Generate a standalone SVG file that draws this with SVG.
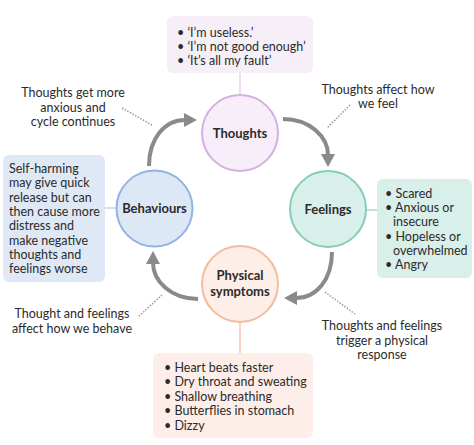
<svg xmlns="http://www.w3.org/2000/svg" width="474" height="445" viewBox="0 0 474 445">
<style>
text{font-family:Lato,"Open Sans","DejaVu Sans",sans-serif;fill:#2b2b2b;font-size:12.5px}
.lbl{font-weight:bold;font-size:13px;text-anchor:middle}
.mid{text-anchor:middle}
.arrow{fill:none;stroke:#8a8a8a;stroke-width:4}
.dot{fill:none;stroke:#9a9a9a;stroke-width:1.5;stroke-dasharray:1.5 1.5}
</style>
<defs>
<marker id="ah" markerUnits="userSpaceOnUse" markerWidth="13" markerHeight="14" refX="1" refY="7" orient="auto">
<path d="M0,0 L13,7 L0,14 z" fill="#8a8a8a"/>
</marker>
</defs>
<rect width="474" height="445" fill="#ffffff"/>
<g id="links">
<line x1="240" y1="73" x2="240" y2="96" stroke="#ecdff1" stroke-width="2"/>
<line x1="105" y1="208" x2="117" y2="208" stroke="#d5e1f3" stroke-width="2"/>
<line x1="365" y1="210" x2="378" y2="210" stroke="#bfe3d9" stroke-width="2"/>
<line x1="240" y1="322" x2="240" y2="354" stroke="#f8d6c6" stroke-width="2"/>
</g>
<g id="connectors">
<path class="arrow" d="M149,166 C149,138 165,120 185,120" marker-end="url(#ah)"/>
<path class="arrow" d="M283,119 C310,119 328,137 328,155" marker-end="url(#ah)"/>
<path class="arrow" d="M332,252 C332,280 316,298 296,298" marker-end="url(#ah)"/>
<path class="arrow" d="M198,299 C171,299 153,281 153,263" marker-end="url(#ah)"/>
<line class="dot" x1="122" y1="108" x2="152" y2="125"/>
<line class="dot" x1="350" y1="105" x2="327" y2="128"/>
<line class="dot" x1="325" y1="292" x2="355" y2="314"/>
<line class="dot" x1="162" y1="295" x2="138" y2="317"/>
</g>
<g id="thoughts">
<circle cx="240" cy="133" r="38" fill="#f7eef9" stroke="#d6aee2" stroke-width="2"/>
<text class="lbl" x="240" y="137.5">Thoughts</text>
</g>
<g id="behaviours">
<circle cx="154.5" cy="208.5" r="38" fill="#dde8f7" stroke="#93b3e2" stroke-width="2"/>
<text class="lbl" x="154.5" y="213">Behaviours</text>
</g>
<g id="feelings">
<circle cx="328" cy="209" r="38" fill="#d9f0ea" stroke="#85cdb8" stroke-width="2"/>
<text class="lbl" x="328" y="213.5">Feelings</text>
</g>
<g id="physical">
<circle cx="240" cy="284" r="38" fill="#fdeee8" stroke="#f4bc9c" stroke-width="2"/>
<text class="lbl" x="240" y="279.5">Physical</text>
<text class="lbl" x="240" y="295.5">symptoms</text>
</g>
<g id="thoughts-box">
<rect x="167" y="16" width="146" height="57" rx="6" fill="#f6eff8"/>
<text x="177" y="36.5">• ‘I’m useless.’</text>
<text x="177" y="50.5">• ‘I’m not good enough’</text>
<text x="177" y="64.5">• ‘It’s all my fault’</text>
</g>
<g id="behaviours-box">
<rect x="3" y="155" width="102" height="127" rx="6" fill="#dfe8f5"/>
<text x="9" y="172.5">Self-harming</text>
<text x="9" y="187">may give quick</text>
<text x="9" y="201.5">release but can</text>
<text x="9" y="216">then cause more</text>
<text x="9" y="230">distress and</text>
<text x="9" y="244.5">make negative</text>
<text x="9" y="259">thoughts and</text>
<text x="9" y="273">feelings worse</text>
</g>
<g id="feelings-box">
<rect x="377" y="179" width="95" height="99" rx="6" fill="#d9efe9"/>
<text x="385" y="198">• Scared</text>
<text x="385" y="212">• Anxious or</text>
<text x="393" y="225.5">insecure</text>
<text x="385" y="241">• Hopeless or</text>
<text x="393" y="254.5">overwhelmed</text>
<text x="385" y="269">• Angry</text>
</g>
<g id="physical-box">
<rect x="153" y="353" width="160" height="85" rx="6" fill="#fdeee9"/>
<text x="164" y="371.5">• Heart beats faster</text>
<text x="164" y="386">• Dry throat and sweating</text>
<text x="164" y="400.5">• Shallow breathing</text>
<text x="164" y="415">• Butterflies in stomach</text>
<text x="164" y="429.5">• Dizzy</text>
</g>
<g id="notes">
<text class="mid" x="73" y="97">Thoughts get more</text>
<text class="mid" x="73" y="111.5">anxious and</text>
<text class="mid" x="73" y="126">cycle continues</text>
<text class="mid" x="378" y="94">Thoughts affect how</text>
<text class="mid" x="378" y="108">we feel</text>
<text class="mid" x="72" y="318">Thought and feelings</text>
<text class="mid" x="72" y="333">affect how we behave</text>
<text class="mid" x="382" y="330">Thoughts and feelings</text>
<text class="mid" x="382" y="344.5">trigger a physical</text>
<text class="mid" x="382" y="359">response</text>
</g>
</svg>
